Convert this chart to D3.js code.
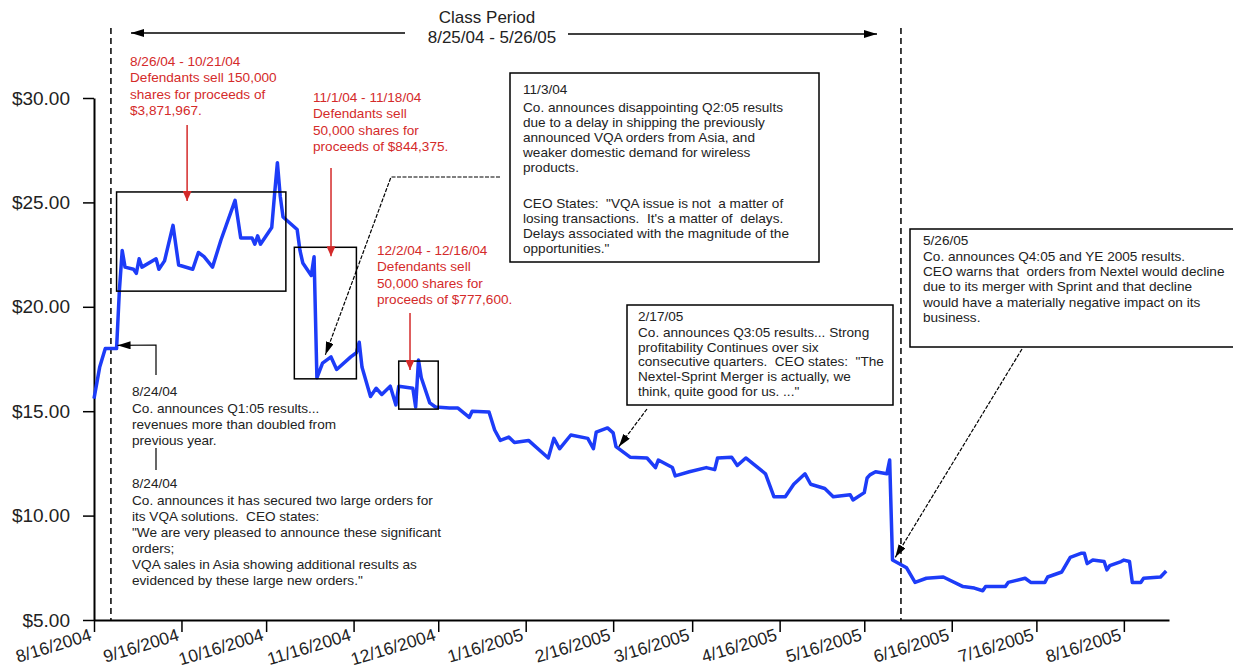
<!DOCTYPE html>
<html>
<head>
<meta charset="utf-8">
<script src="https://cdn.jsdelivr.net/npm/d3@7"></script>
<style>
  body { margin: 0; background: #fff; }
  text { font-family: "Liberation Sans", Arial, sans-serif; white-space: pre; }
</style>
</head>
<body>
<svg id="chart" width="1233" height="668"></svg>
<script>
// daily closes (approx.)
const dates = [
  "2004-08-16","2004-08-18","2004-08-20","2004-08-24","2004-08-25","2004-08-26","2004-08-27","2004-08-30",
  "2004-08-31","2004-09-01","2004-09-02","2004-09-07","2004-09-08","2004-09-10","2004-09-13","2004-09-15",
  "2004-09-20","2004-09-22","2004-09-24","2004-09-27","2004-09-30","2004-10-05","2004-10-07","2004-10-11",
  "2004-10-12","2004-10-13","2004-10-14","2004-10-18","2004-10-19","2004-10-20","2004-10-21","2004-10-22",
  "2004-10-27","2004-10-28","2004-10-29","2004-11-01","2004-11-02","2004-11-03","2004-11-05","2004-11-08",
  "2004-11-10","2004-11-15","2004-11-17","2004-11-18","2004-11-19","2004-11-22","2004-11-24","2004-11-26",
  "2004-11-29","2004-12-01","2004-12-02","2004-12-07","2004-12-08","2004-12-09","2004-12-10","2004-12-13",
  "2004-12-15","2004-12-20","2004-12-23","2004-12-27","2004-12-28","2005-01-03","2005-01-05","2005-01-07",
  "2005-01-10","2005-01-12","2005-01-17","2005-01-24","2005-01-26","2005-01-28","2005-02-01","2005-02-07",
  "2005-02-09","2005-02-10","2005-02-14","2005-02-16","2005-02-17","2005-02-22","2005-02-28","2005-03-03",
  "2005-03-04","2005-03-09","2005-03-10","2005-03-15","2005-03-21","2005-03-24","2005-03-25","2005-03-30",
  "2005-04-01","2005-04-04","2005-04-11","2005-04-14","2005-04-18","2005-04-21","2005-04-25","2005-04-27",
  "2005-05-02","2005-05-05","2005-05-11","2005-05-12","2005-05-16","2005-05-17","2005-05-18","2005-05-20",
  "2005-05-24","2005-05-25","2005-05-26","2005-05-31","2005-06-03","2005-06-07","2005-06-13","2005-06-20",
  "2005-06-24","2005-06-27","2005-06-28","2005-07-05","2005-07-06","2005-07-12","2005-07-14","2005-07-19",
  "2005-07-20","2005-07-25","2005-07-28","2005-08-01","2005-08-02","2005-08-03","2005-08-05","2005-08-09",
  "2005-08-10","2005-08-11","2005-08-15","2005-08-16","2005-08-18","2005-08-19","2005-08-22","2005-08-23",
  "2005-08-29","2005-08-31"
];
const prices = [
  15.6, 17.1, 18.0, 18.0, 20.8, 22.7, 21.9, 21.8,
  21.6, 22.3, 21.9, 22.3, 21.8, 22.2, 23.9, 22.0,
  21.8, 22.6, 22.4, 21.9, 23.2, 25.1, 23.3, 23.3,
  23.0, 23.4, 23.0, 23.8, 25.4, 26.9, 25.3, 24.3,
  23.7, 22.7, 22.1, 21.5, 22.4, 16.6, 17.3, 17.6,
  17.0, 17.6, 17.8, 18.3, 17.1, 15.7, 16.1, 15.8,
  16.2, 15.3, 16.2, 16.1, 15.2, 17.45, 16.6, 15.4,
  15.2, 15.15, 15.15, 14.7, 15.0, 14.96, 14.1, 13.6,
  13.76, 13.5, 13.6, 12.76, 13.7, 13.2, 13.86, 13.7,
  13.2, 14.0, 14.2, 13.96, 13.3, 12.8, 12.76, 12.3,
  12.66, 12.3, 11.9, 12.1, 12.3, 12.2, 12.76, 12.8,
  12.4, 12.76, 12.0, 10.9, 10.9, 11.5, 12.0, 11.5,
  11.3, 10.9, 11.0, 10.75, 11.1, 11.8, 11.95, 12.1,
  12.0, 12.66, 7.87, 7.5, 6.8, 7.0, 7.06, 6.6,
  6.53, 6.4, 6.6, 6.6, 6.8, 7.0, 6.8, 6.8,
  7.06, 7.3, 8.0, 8.2, 8.2, 7.7, 7.87, 7.8,
  7.4, 7.6, 7.8, 7.87, 7.8, 6.8, 6.8, 7.0,
  7.06, 7.35
];

const tickDates = ["2004-08-16","2004-09-16","2004-10-16","2004-11-16","2004-12-16","2005-01-16",
  "2005-02-16","2005-03-16","2005-04-16","2005-05-16","2005-06-16","2005-07-16","2005-08-16"];
const priceTicks = [5, 10, 15, 20, 25, 30];

// insider selling windows: boxes drawn around the price in these ranges
const saleStart = ["2004-08-24", "2004-10-26", "2004-12-02"];
const saleEnd   = ["2004-10-23", "2004-11-17", "2004-12-16"];
const saleHigh  = [25.5, 22.85, 17.4];
const saleLow   = [20.75, 16.55, 15.1];
const saleArrowDate = ["2004-09-18", "2004-11-08", "2004-12-06"];
const saleText = [
  ["8/26/04 - 10/21/04", "Defendants sell 150,000", "shares for proceeds of", "$3,871,967."],
  ["11/1/04 - 11/18/04", "Defendants sell", "50,000 shares for", "proceeds of $844,375."],
  ["12/2/04 - 12/16/04", "Defendants sell", "50,000 shares for", "proceeds of $777,600."]
];

const classStart = "2004-08-22";
const classEnd = "2005-05-29";

const note0824a = ["8/24/04", "Co. announces Q1:05 results...", "revenues more than doubled from", "previous year."];
const note0824b = ["8/24/04", "Co. announces it has secured two large orders for", "its VQA solutions.  CEO states:",
  "\"We are very pleased to announce these significant", "orders;",
  "VQA sales in Asia showing additional results as", "evidenced by these large new orders.\""];
const note1103 = ["11/3/04", "Co. announces disappointing Q2:05 results", "due to a delay in shipping the previously",
  "announced VQA orders from Asia, and", "weaker domestic demand for wireless", "products.", "",
  "CEO States:  \"VQA issue is not  a matter of", "losing transactions.  It's a matter of  delays.",
  "Delays associated with the magnitude of the", "opportunities.\""];
const note0217 = ["2/17/05", "Co. announces Q3:05 results... Strong", "profitability Continues over six",
  "consecutive quarters.  CEO states:  \"The", "Nextel-Sprint Merger is actually, we", "think, quite good for us. ...\""];
const note0526 = ["5/26/05", "Co. announces Q4:05 and YE 2005 results.", "CEO warns that  orders from Nextel would decline",
  "due to its merger with Sprint and that decline", "would have a materially negative impact on its", "business."];

const parse = d3.timeParse("%Y-%m-%d");
const data = dates.map((d, i) => ({date: parse(d), price: prices[i]}));

const svg = d3.select("#chart");
const x = d3.scaleTime().domain([parse("2004-08-16"), parse("2005-09-01")]).range([94, 1169]);
const y = d3.scaleLinear().domain([5, 30]).range([620, 98]);

const ink = "#222";
const red = "#d42a2a";
const noteSize = 13.6;

const defs = svg.append("defs");
function marker(id, color, len, wid) {
  defs.append("marker")
    .attr("id", id)
    .attr("viewBox", `0 0 ${len} ${wid}`)
    .attr("refX", len).attr("refY", wid / 2)
    .attr("markerUnits", "userSpaceOnUse")
    .attr("markerWidth", len).attr("markerHeight", wid)
    .attr("orient", "auto")
    .append("path")
    .attr("d", `M0,0L${len},${wid / 2}L0,${wid}Z`)
    .attr("fill", color);
}
marker("headBlack", "#000", 13, 8);
marker("headRed", red, 10, 9);

// axes
const xAxis = svg.append("g")
  .attr("transform", "translate(0,620)")
  .call(d3.axisBottom(x)
    .tickValues(tickDates.map(parse))
    .tickSize(12).tickSizeOuter(0)
    .tickFormat(d3.timeFormat("%-m/%-d/%Y")));
xAxis.select(".domain").attr("stroke-width", 2);
xAxis.selectAll(".tick line").attr("stroke-width", 1.5);
xAxis.selectAll(".tick text")
  .attr("x", 0).attr("y", 0).attr("dy", 0)
  .attr("text-anchor", "end")
  .attr("transform", "translate(-2,20) rotate(-17)")
  .attr("font-size", 17.5).attr("fill", ink);

const yAxis = svg.append("g")
  .attr("transform", "translate(94,0)")
  .call(d3.axisLeft(y)
    .tickValues(priceTicks)
    .tickSize(11).tickSizeOuter(0)
    .tickFormat(d => "$" + d.toFixed(2)));
yAxis.select(".domain").attr("stroke-width", 2);
yAxis.selectAll(".tick line").attr("stroke-width", 1.5);
yAxis.selectAll(".tick text")
  .attr("x", -24)
  .attr("font-size", 19).attr("fill", ink);

// class period
[classStart, classEnd].forEach(d => {
  svg.append("line")
    .attr("x1", x(parse(d))).attr("x2", x(parse(d)))
    .attr("y1", 28).attr("y2", 620)
    .attr("stroke", "#000").attr("stroke-width", 1.5)
    .attr("stroke-dasharray", "6,4");
});
svg.append("text").attr("x", 487).attr("y", 23).attr("text-anchor", "middle")
  .attr("font-size", 17).attr("fill", ink).text("Class Period");
svg.append("text").attr("x", 492).attr("y", 43).attr("text-anchor", "middle")
  .attr("font-size", 17).attr("fill", ink).text("8/25/04 - 5/26/05");
svg.append("line").attr("x1", 405).attr("x2", 131).attr("y1", 33).attr("y2", 33)
  .attr("stroke", "#000").attr("stroke-width", 1.5).attr("marker-end", "url(#headBlack)");
svg.append("line").attr("x1", 568).attr("x2", 877).attr("y1", 34).attr("y2", 34)
  .attr("stroke", "#000").attr("stroke-width", 1.5).attr("marker-end", "url(#headBlack)");

// price line
svg.append("path")
  .datum(data)
  .attr("fill", "none")
  .attr("stroke", "#1d3cf8")
  .attr("stroke-width", 3.5)
  .attr("stroke-linejoin", "round")
  .attr("d", d3.line().x(d => x(d.date)).y(d => y(d.price)));

// text helper
function block(x0, y0, lines, color, size, firstGap, lh) {
  const t = svg.append("text").attr("font-size", size).attr("fill", color);
  let yy = y0;
  lines.forEach((s, i) => {
    if (i > 0) yy += (i === 1 ? firstGap : (lines[i - 1] === "" ? 20 : lh));
    t.append("tspan").attr("x", x0).attr("y", yy).text(s);
  });
  return t;
}

// insider sale boxes, red arrows and labels
const redTextPos = [[130, 66], [313, 102], [377, 255]];
const redArrowTop = [125, 168, 313];
saleStart.forEach((s, i) => {
  const x0 = x(parse(s)), x1 = x(parse(saleEnd[i]));
  svg.append("rect")
    .attr("x", x0).attr("y", y(saleHigh[i]))
    .attr("width", x1 - x0).attr("height", y(saleLow[i]) - y(saleHigh[i]))
    .attr("fill", "none").attr("stroke", "#000").attr("stroke-width", 1.5);
  const ax = x(parse(saleArrowDate[i]));
  svg.append("line")
    .attr("x1", ax).attr("x2", ax)
    .attr("y1", redArrowTop[i]).attr("y2", y(saleHigh[i]) + 9)
    .attr("stroke", red).attr("stroke-width", 1.5)
    .attr("marker-end", "url(#headRed)");
  block(redTextPos[i][0], redTextPos[i][1], saleText[i], red, noteSize, 16.3, 16.3);
});

// callouts
function box(x0, y0, w, h) {
  svg.append("rect").attr("x", x0).attr("y", y0).attr("width", w).attr("height", h)
    .attr("fill", "#fff").attr("stroke", "#000").attr("stroke-width", 1.5);
}
function leader(points, dashed) {
  svg.append("path")
    .attr("d", d3.line()(points))
    .attr("fill", "none").attr("stroke", "#000").attr("stroke-width", 1.2)
    .attr("stroke-dasharray", dashed ? "4,1.5" : null)
    .attr("marker-end", "url(#headBlack)");
}

// 8/24/04 notes
leader([[156, 375], [156, 345], [x(parse("2004-08-24")) + 1, y(18.15)]], false);
block(132, 396, note0824a, ink, noteSize, 16.5, 16);
svg.append("line").attr("x1", 156).attr("x2", 156).attr("y1", 448).attr("y2", 470)
  .attr("stroke", "#000").attr("stroke-width", 1.2);
block(132, 488, note0824b, ink, noteSize, 17, 16);

// 11/3/04
box(510, 73, 309, 189);
block(523, 94, note1103, ink, noteSize, 18, 15.1);
leader([[500, 177], [391, 177], [x(parse("2004-11-06")), y(17.7)]], true);

// 2/17/05
box(627, 305, 266, 100);
block(638, 321, note0217, ink, noteSize, 16, 14.7);
leader([[647, 409], [x(parse("2005-02-18")), y(13.3)]], true);

// 5/26/05
box(910, 229, 330, 118);
block(923, 245, note0526, ink, noteSize, 16, 15.2);
leader([[1022, 349], [x(parse("2005-05-27")), y(8.0)]], true);
</script>
</body>
</html>
